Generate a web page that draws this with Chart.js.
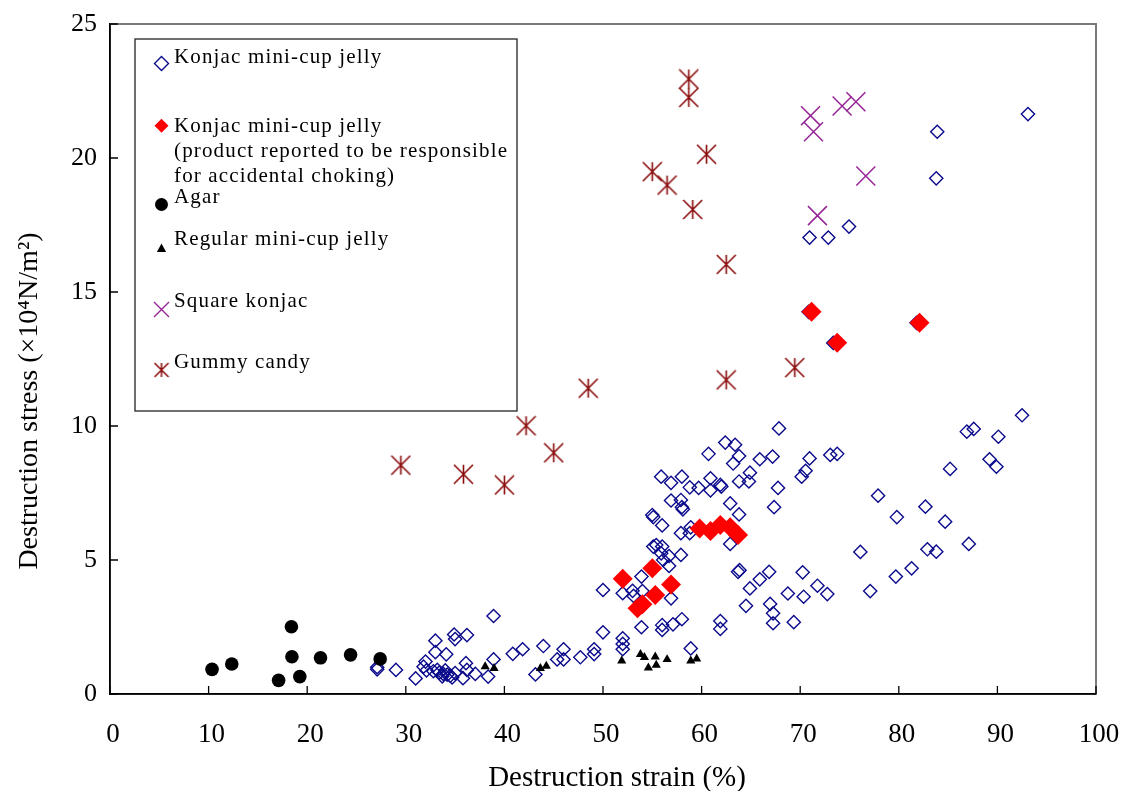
<!DOCTYPE html>
<html><head><meta charset="utf-8">
<script src="https://cdn.jsdelivr.net/npm/chart.js@4/dist/chart.umd.min.js"></script>
<style>html,body{margin:0;padding:0;background:#fff;}#wrap{position:relative;width:1121px;height:791px;}</style>
</head><body><div id="wrap"><canvas id="c" width="1121" height="791"></canvas></div>
<script>
// ---------- data (strain %, stress x10^4 N/m^2) ----------
const konjacStrain = [27.1,27.1,29.0,31.0,31.8,32.0,32.1,33.0,33.0,34.1,34.9,35.0,36.2,32.8,33.4,33.8,34.2,34.5,34.7,33.7,33.2,35.0,34.0,36.1,36.2,35.8,37.05,38.35,38.9,38.9,40.85,41.85,43.95,43.15,45.35,46.0,46.0,47.7,49.1,49.1,50.0,50.0,52.0,52.0,52.0,52.0,53.0,53.1,53.9,54.0,53.9,56.0,56.0,57.1,58.0,56.9,58.9,55.0,55.1,56.0,55.9,56.9,58.0,56.9,57.9,58.0,58.1,58.8,59.7,60.9,60.9,60.7,61.9,62.0,62.4,63.4,63.8,63.2,64.9,64.8,63.8,62.9,63.8,65.9,67.2,67.85,67.75,67.35,55.1,55.4,56.0,55.9,56.7,56.7,57.9,56.1,57.9,58.8,58.9,62.9,63.7,63.85,66.85,65.9,64.9,66.95,67.25,67.25,64.5,61.9,61.9,69.35,68.75,70.25,70.35,71.75,72.75,77.1,76.1,77.9,79.8,79.7,70.95,73.05,73.75,70.55,70.15,70.85,73.35,81.8,70.95,72.85,74.95,83.9,83.8,93.1,92.5,86.9,87.6,90.1,85.2,89.2,89.9,82.7,84.7,82.9,83.8,87.1,81.3];
const konjacStress = [0.92,1.0,0.9,0.58,1.02,1.21,0.88,1.99,1.56,1.48,2.22,2.05,2.2,0.85,0.8,0.75,0.72,0.68,0.62,0.66,0.9,0.78,0.88,1.15,0.9,0.59,0.75,0.65,1.29,2.91,1.5,1.67,1.79,0.73,1.29,1.67,1.29,1.37,1.67,1.49,2.3,3.88,2.08,1.87,1.67,3.76,3.85,3.66,4.38,3.84,2.49,2.57,2.39,2.6,2.79,3.57,1.7,6.68,6.6,6.29,8.11,7.88,8.11,7.22,7.24,6.97,6.89,7.71,7.69,8.05,7.6,8.96,7.8,7.74,9.38,9.3,8.88,8.6,8.26,7.93,7.93,7.11,6.7,8.76,8.86,9.91,7.69,6.97,5.5,5.56,5.5,5.25,5.15,4.78,5.19,5.0,6.0,6.0,6.22,5.6,4.56,4.62,4.56,4.28,3.94,3.36,3.01,2.64,3.29,2.72,2.43,2.68,3.75,4.54,3.63,4.04,3.73,3.84,5.3,7.4,6.6,4.38,8.79,8.92,8.96,8.33,8.11,14.26,13.1,13.85,17.03,17.03,17.44,20.98,19.24,21.64,10.4,9.79,9.89,9.6,8.4,8.76,8.48,6.99,6.43,5.4,5.31,5.6,4.69];
const chokingStrain = [52.0,55.0,56.9,55.3,53.5,54.0,59.8,60.9,61.9,62.9,63.7,71.15,73.75,82.1];
const chokingStress = [4.3,4.69,4.09,3.69,3.2,3.35,6.18,6.08,6.31,6.22,5.93,14.26,13.11,13.85];
const agarStrain = [10.35,12.35,18.4,18.45,17.1,19.25,21.35,24.4,27.4];
const agarStress = [0.92,1.12,2.51,1.39,0.51,0.65,1.35,1.46,1.31];
const regularStrain = [38.05,38.95,43.65,44.25,51.9,53.8,54.2,54.6,55.3,55.4,56.5,58.9,59.5];
const regularStress = [1.02,0.96,0.96,1.04,1.24,1.48,1.37,0.98,1.39,1.08,1.29,1.24,1.31];
const squareStrain = [71.05,71.35,74.25,75.65,76.65,71.75];
const squareStress = [21.58,20.98,21.94,22.1,19.33,17.85];
const gummyStrain = [58.7,58.7,60.5,55.0,56.5,59.1,62.5,62.5,69.45,48.5,42.2,45.0,29.5,35.85,40.0];
const gummyStress = [22.95,22.26,20.14,19.49,18.99,18.08,16.03,11.72,12.18,11.41,10.01,9.0,8.54,8.2,7.8];
const seriesLabels = [
  ['Konjac mini-cup jelly'],
  ['Konjac mini-cup jelly','(product reported to be responsible','for accidental choking)'],
  ['Agar'],
  ['Regular mini-cup jelly'],
  ['Square konjac'],
  ['Gummy candy']
];
const xTitle = 'Destruction strain (%)';
const yTitle = 'Destruction stress (\u00d710\u2074N/m\u00b2)';
const xMin = 0, xMax = 100, xStep = 10, yMin = 0, yMax = 25, yStep = 5;

// ---------- styling ----------
const FONT = "'Liberation Serif','Times New Roman',serif";
function pts(xs, ys){ return xs.map((x,i)=>({x:x, y:ys[i]})); }
function asterisk(size, color, lw){
  const c = document.createElement('canvas'); c.width = size; c.height = size;
  const g = c.getContext('2d'); g.strokeStyle = color; g.lineWidth = lw;
  const a = 1, b = size-1, m = size/2;
  g.beginPath();
  g.moveTo(m, a); g.lineTo(m, b);
  g.moveTo(a, a); g.lineTo(b, b);
  g.moveTo(b, a); g.lineTo(a, b);
  g.stroke();
  return c;
}
const gummyImg = asterisk(21, '#8b0c0c', 1.6);
const gummyLegendImg = asterisk(16, '#8b0c0c', 1.5);

const datasets = [
  {label: seriesLabels[0].join(' '), data: pts(konjacStrain, konjacStress), pointStyle:'rectRot', radius:6.6, borderWidth:1.4, borderColor:'#0a0a8c', backgroundColor:'rgba(0,0,0,0)', order:6},
  {label: seriesLabels[1].join(' '), data: pts(chokingStrain, chokingStress), pointStyle:'rectRot', radius:10, borderWidth:0, borderColor:'#ff0000', backgroundColor:'#ff0000', order:1},
  {label: seriesLabels[2].join(' '), data: pts(agarStrain, agarStress), pointStyle:'circle', radius:6.8, borderWidth:0, borderColor:'#000', backgroundColor:'#000', order:2},
  {label: seriesLabels[3].join(' '), data: pts(regularStrain, regularStress), pointStyle:'triangle', radius:5.3, borderWidth:0, borderColor:'#000', backgroundColor:'#000', order:3},
  {label: seriesLabels[4].join(' '), data: pts(squareStrain, squareStress), pointStyle:'crossRot', radius:13.4, borderWidth:1.5, borderColor:'#952495', backgroundColor:'#952495', order:4},
  {label: seriesLabels[5].join(' '), data: pts(gummyStrain, gummyStress), pointStyle:gummyImg, radius:10, borderWidth:0, borderColor:'#8b0c0c', backgroundColor:'#8b0c0c', order:5}
];

function legendMarker(ctx, i, x, y){
  ctx.save();
  ctx.beginPath();
  if (i === 0 || i === 1){
    const r = 7;
    ctx.moveTo(x-r, y); ctx.lineTo(x, y-r); ctx.lineTo(x+r, y); ctx.lineTo(x, y+r); ctx.closePath();
    if (i === 0){ ctx.strokeStyle = '#0a0a8c'; ctx.lineWidth = 1.4; ctx.stroke(); }
    else { ctx.fillStyle = '#ff0000'; ctx.fill(); }
  } else if (i === 2){
    ctx.arc(x, y, 6.5, 0, Math.PI*2); ctx.fillStyle = '#000'; ctx.fill();
  } else if (i === 3){
    ctx.moveTo(x, y-5); ctx.lineTo(x+4.6, y+3.5); ctx.lineTo(x-4.6, y+3.5); ctx.closePath(); ctx.fillStyle = '#000'; ctx.fill();
  } else if (i === 4){
    const r = 7.5;
    ctx.moveTo(x-r, y-r); ctx.lineTo(x+r, y+r); ctx.moveTo(x+r, y-r); ctx.lineTo(x-r, y+r);
    ctx.strokeStyle = '#952495'; ctx.lineWidth = 1.4; ctx.stroke();
  } else {
    ctx.drawImage(gummyLegendImg, x-8, y-8);
  }
  ctx.restore();
}

const decor = {
  id:'decor',
  afterDraw(chart){
    const ctx = chart.ctx, a = chart.chartArea;
    const xs = chart.scales.x, ys = chart.scales.y;
    ctx.save();
    // frame (top / right)
    ctx.strokeStyle = '#7a7a7a'; ctx.lineWidth = 2;
    ctx.beginPath(); ctx.moveTo(a.left, a.top); ctx.lineTo(a.right, a.top); ctx.lineTo(a.right, a.bottom); ctx.stroke();
    // axes
    ctx.strokeStyle = '#000'; ctx.lineWidth = 1.5;
    ctx.beginPath(); ctx.moveTo(a.left, a.top); ctx.lineTo(a.left, a.bottom); ctx.lineTo(a.right, a.bottom); ctx.stroke();
    // inward ticks
    ctx.lineWidth = 1.3; ctx.beginPath();
    xs.ticks.forEach(t => { const p = xs.getPixelForValue(t.value); ctx.moveTo(p, a.bottom); ctx.lineTo(p, a.bottom-8); });
    ys.ticks.forEach(t => { const p = ys.getPixelForValue(t.value); ctx.moveTo(a.left, p); ctx.lineTo(a.left+8, p); });
    ctx.stroke();
    // axis titles
    ctx.fillStyle = '#000';
    ctx.font = '29px ' + FONT; ctx.textAlign = 'center'; ctx.textBaseline = 'alphabetic';
    ctx.fillText(xTitle, 617, 786);
    ctx.save(); ctx.translate(37, 401); ctx.rotate(-Math.PI/2);
    ctx.font = '28px ' + FONT; ctx.fillText(yTitle, 0, 0); ctx.restore();
    // legend box
    ctx.fillStyle = '#fff'; ctx.fillRect(135, 39, 382, 372);
    ctx.strokeStyle = '#222'; ctx.lineWidth = 1.3; ctx.strokeRect(135, 39, 382, 372);
    const baselines = [[63],[132,157,182],[202.5],[245],[306.5],[368]];
    const markerY = [63.5,125.7,204.5,248.5,309.5,370];
    ctx.fillStyle = '#000'; ctx.textAlign = 'left'; ctx.textBaseline = 'alphabetic';
    ctx.font = '21px ' + FONT;
    try { ctx.letterSpacing = '1.15px'; } catch(e) {}
    seriesLabels.forEach((lines, i) => {
      lines.forEach((s, j) => ctx.fillText(s, 174, baselines[i][j]));
    });
    try { ctx.letterSpacing = '0px'; } catch(e) {}
    seriesLabels.forEach((lines, i) => legendMarker(ctx, i, 161.5, markerY[i]));
    ctx.restore();
  }
};

new Chart(document.getElementById('c'), {
  type:'scatter',
  data:{datasets: datasets},
  options:{
    responsive:false, animation:false, devicePixelRatio:1,
    layout:{padding:{left:0, right:25, top:24, bottom:0}},
    plugins:{legend:{display:false}, tooltip:{enabled:false}},
    scales:{
      x:{type:'linear', min:xMin, max:xMax,
         ticks:{stepSize:xStep, padding:25, labelOffset:3, color:'#000', maxRotation:0, font:{family:FONT, size:27}},
         grid:{display:false, drawTicks:false}, border:{display:true, color:'#000', width:1.5},
         afterFit(s){ s.height = 97; s.paddingLeft = 0; s.paddingRight = 0; }},
      y:{type:'linear', min:yMin, max:yMax,
         ticks:{stepSize:yStep, padding:13, color:'#000', font:{family:FONT, size:26}},
         grid:{display:false, drawTicks:false}, border:{display:true, color:'#000', width:1.5},
         afterFit(s){ s.width = 110; s.paddingTop = 0; s.paddingBottom = 0; }}
    }
  },
  plugins:[decor]
});
</script></body></html>
